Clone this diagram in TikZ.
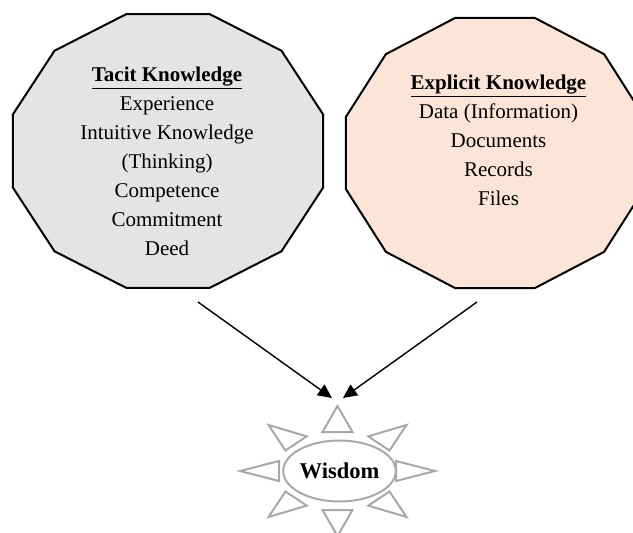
\documentclass[tikz,border=0pt]{standalone}
\usepackage{fontspec}
\setmainfont{Liberation Serif}
\usetikzlibrary{arrows.meta,shapes.geometric}
\definecolor{tacitfill}{HTML}{E4E4E4}
\definecolor{explicitfill}{HTML}{FCE4D6}
\definecolor{sunray}{HTML}{A8A8A8}
\begin{document}
\begin{tikzpicture}[x=1pt,y=-1pt,
  panel/.style={draw=black, line width=2pt, line join=miter},
  blocktext/.style={align=center, inner sep=0pt, anchor=north,
    font=\fontsize{21}{29}\selectfont},
  flow/.style={line width=1.4pt, -{Triangle[length=14pt,width=13pt]}},
  ray/.style={draw=sunray, line width=2pt, line join=miter}]
\useasboundingbox (0,0) rectangle (633,533);
\clip (0,0) rectangle (633,533);

% twelve-sided panels
\draw[panel, fill=tacitfill, shift={(168,151)}]
  (15:160.5 and 141.8) \foreach \a in {45,75,...,345} { -- (\a:160.5 and 141.8) } -- cycle;
\draw[panel, fill=explicitfill, shift={(495,153)}]
  (15:154.3 and 139.8) \foreach \a in {45,75,...,345} { -- (\a:154.3 and 139.8) } -- cycle;

% panel texts
\node[blocktext] (tacit) at (167,67)
  {\underline{\textbf{Tacit Knowledge}}\\Experience\\Intuitive Knowledge\\(Thinking)\\Competence\\Commitment\\Deed};
\node[blocktext] (explicit) at (498.5,75)
  {\underline{\textbf{Explicit Knowledge}}\\Data (Information)\\Documents\\Records\\Files};

% sun with rays
\begin{scope}[shift={(337.5,471)}, xscale=1.5]
  \foreach \a in {0,45,...,315}
    \draw[ray, rotate=\a] (39,10) -- (65,0) -- (39,-10) -- cycle;
\end{scope}
\node[ellipse, draw=sunray, line width=2pt, minimum width=102pt, minimum height=61pt,
  inner sep=0pt, font=\bfseries\fontsize{22.5}{27}\selectfont] (wisdom) at (339.5,471) {Wisdom};

% connectors
\coordinate (tacitout) at (198,302);
\coordinate (explicitout) at (477,302);
\coordinate (wisdomin1) at (332,398);
\coordinate (wisdomin2) at (343,398);
\draw[flow] (tacitout) -- (wisdomin1);
\draw[flow] (explicitout) -- (wisdomin2);
\end{tikzpicture}
\end{document}
